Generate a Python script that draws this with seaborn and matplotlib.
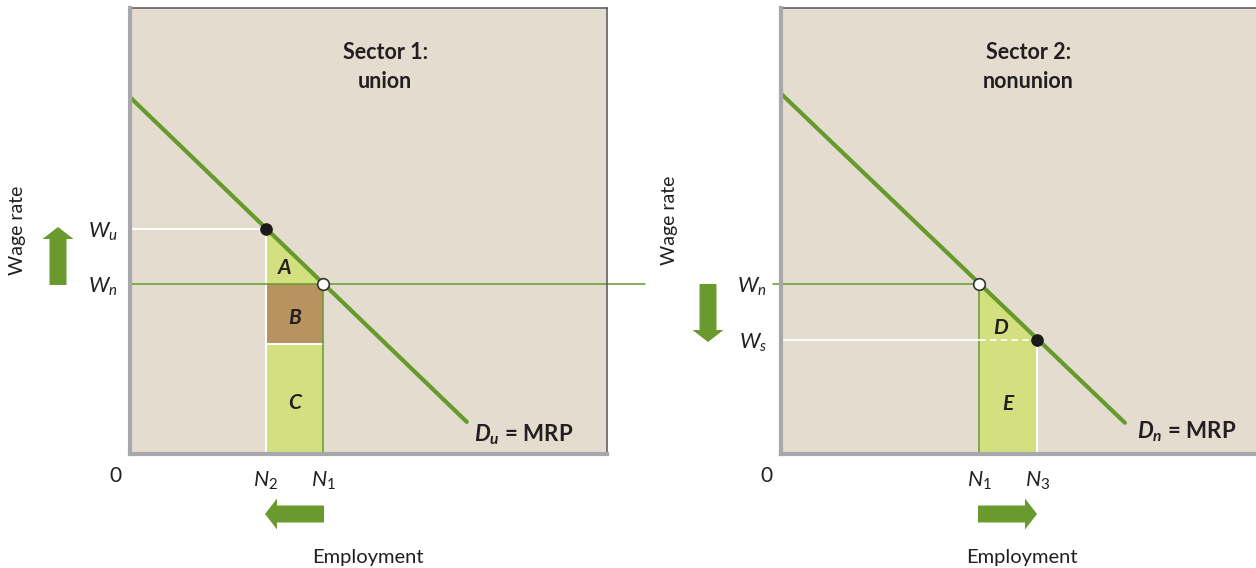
import matplotlib
matplotlib.use("Agg")
import matplotlib.pyplot as plt
import seaborn as sns
from matplotlib.patches import FancyArrow
from matplotlib.transforms import IdentityTransform

# ---------------- data ----------------
sector_titles = ["Sector 1:\nunion", "Sector 2:\nnonunion"]
demand_u_x = [0.0, 70.6]
demand_u_y = [80.0, 7.2]
demand_n_x = [0.0, 72.1]
demand_n_y = [80.8, 7.0]
wage_u = 50.4        # W_u
wage_n = 38.1        # W_n
wage_split = 24.7    # B / C boundary
wage_s = 25.6        # W_s
emp_n2 = 28.5
emp_n1_u = 40.5
emp_n1_n = 41.5
emp_n3 = 53.7
area_letters_u = ["A", "B", "C"]
area_letters_n = ["D", "E"]
ytick_labels_u = [r"$W_n$", r"$W_u$"]
ytick_labels_n = [r"$W_s$", r"$W_n$"]
xtick_labels_u = [r"$N_2$", r"$N_1$"]
xtick_labels_n = [r"$N_1$", r"$N_3$"]

# ---------------- style ----------------
sns.set_theme(style="white")
plt.rcParams["font.family"] = ["Lato", "DejaVu Sans"]
plt.rcParams["mathtext.fontset"] = "custom"
plt.rcParams["mathtext.rm"] = "Lato"
plt.rcParams["mathtext.it"] = "Lato:italic"
plt.rcParams["mathtext.bf"] = "Lato:bold"
plt.rcParams["mathtext.bfit"] = "Lato:italic:bold"

BG = "#E5DCD0"
LIGHT = "#D3E07F"
BROWN = "#B8925F"
GREEN = "#669A2D"
ARROW = "#6A9A2E"
SPINE = "#A7A8AC"
DARK = "#231F20"

W, H = 1256, 568
fig = plt.figure(figsize=(W / 100, H / 100), dpi=100)
fig.patch.set_facecolor("white")


def axrect(x0):
    return [x0 / W, (H - 454) / H, 477 / W, 446 / H]


ax1 = fig.add_axes(axrect(130))
ax2 = fig.add_axes(axrect(781))

for ax in (ax1, ax2):
    ax.set_xlim(0, 100)
    ax.set_ylim(0, 100)
    ax.set_facecolor(BG)
    for s in ("left", "bottom"):
        ax.spines[s].set_color(SPINE)
        ax.spines[s].set_linewidth(3)
        ax.spines[s].set_zorder(6)
    for s in ("top", "right"):
        ax.spines[s].set_color("#555555")
        ax.spines[s].set_linewidth(1.1)
    ax.tick_params(length=0, labelsize=15.5, colors=DARK)

LETTER_KW = dict(fontsize=15, fontweight="bold", style="italic", ha="center",
                 va="center", color=DARK, zorder=6)

# ---------------- Sector 1 ----------------
slope_u = (demand_u_y[1] - demand_u_y[0]) / (demand_u_x[1] - demand_u_x[0])
wu_line = demand_u_y[0] + slope_u * emp_n2
ax1.fill([emp_n2, emp_n2, emp_n1_u], [wage_n, wu_line, wage_n], color=LIGHT, lw=0, zorder=1)
ax1.fill_between([emp_n2, emp_n1_u], wage_split, wage_n, color=BROWN, lw=0, zorder=1)
ax1.fill_between([emp_n2, emp_n1_u], 0, wage_split, color=LIGHT, lw=0, zorder=1)
ax1.plot([0, emp_n2], [wage_u, wage_u], color="white", lw=1.4, zorder=2)
ax1.plot([emp_n2, emp_n2], [0, wage_u], color="white", lw=1.4, zorder=2)
ax1.plot([emp_n2, emp_n1_u], [wage_split, wage_split], color="white", lw=1.4, zorder=2)
ax1.plot([0, 108], [wage_n, wage_n], color=GREEN, lw=1.1, zorder=2, clip_on=False)
ax1.plot([emp_n1_u, emp_n1_u], [0, wage_n], color=GREEN, lw=1.1, zorder=2)
sns.lineplot(x=demand_u_x, y=demand_u_y, ax=ax1, color=GREEN, lw=3, zorder=4)
sns.scatterplot(x=[emp_n2], y=[wage_u], ax=ax1, color="#1a1a1a", s=70, edgecolor="#1a1a1a", zorder=5)
sns.scatterplot(x=[emp_n1_u], y=[wage_n], ax=ax1, color="white", s=70, edgecolor="#333333",
                linewidth=1.2, zorder=5)

ax1.text((2 * emp_n2 + emp_n1_u) / 3, (2 * wage_n + wage_u) / 3 - 0.5, area_letters_u[0], **LETTER_KW)
ax1.text((emp_n2 + emp_n1_u) / 2, (wage_split + wage_n) / 2 - 0.8, area_letters_u[1], **LETTER_KW)
ax1.text((emp_n2 + emp_n1_u) / 2, wage_split / 2 - 1.0, area_letters_u[2], **LETTER_KW)

ax1.set_yticks([wage_n, wage_u], labels=ytick_labels_u)
ax1.set_xticks([emp_n2, emp_n1_u], labels=xtick_labels_u)
ax1.tick_params(axis="y", pad=9)
ax1.tick_params(axis="x", pad=11)
ax1.text(72.1, 4.3, r"$\mathbfit{D_u}$ = MRP", fontsize=16, fontweight="bold",
         ha="left", va="center", color=DARK)
ax1.text(0.535, 0.868, sector_titles[0], transform=ax1.transAxes, fontsize=15.5,
         fontweight="bold", ha="center", va="center", color=DARK, linespacing=1.45)

# ---------------- Sector 2 ----------------
slope_n = (demand_n_y[1] - demand_n_y[0]) / (demand_n_x[1] - demand_n_x[0])
wn_line = demand_n_y[0] + slope_n * emp_n1_n
ax2.fill([emp_n1_n, emp_n1_n, emp_n3], [wn_line, wage_s, wage_s], color=LIGHT, lw=0, zorder=1)
ax2.fill_between([emp_n1_n, emp_n3], 0, wage_s, color=LIGHT, lw=0, zorder=1)
ax2.plot([-1.7, emp_n1_n], [wage_n, wage_n], color=GREEN, lw=1.1, zorder=2, clip_on=False)
ax2.plot([emp_n1_n, emp_n1_n], [0, wage_n], color=GREEN, lw=1.1, zorder=2)
ax2.plot([0, emp_n1_n], [wage_s, wage_s], color="white", lw=1.2, zorder=2)
ax2.plot([emp_n1_n, emp_n3], [wage_s, wage_s], color="white", lw=1.2, ls=(0, (4, 2.5)), zorder=2)
ax2.plot([emp_n3, emp_n3], [0, wage_s], color="white", lw=1.4, zorder=2)
sns.lineplot(x=demand_n_x, y=demand_n_y, ax=ax2, color=GREEN, lw=3, zorder=4)
sns.scatterplot(x=[emp_n3], y=[wage_s], ax=ax2, color="#1a1a1a", s=70, edgecolor="#1a1a1a", zorder=5)
sns.scatterplot(x=[emp_n1_n], y=[wage_n], ax=ax2, color="white", s=70, edgecolor="#333333",
                linewidth=1.2, zorder=5)

ax2.text((2 * emp_n1_n + emp_n3) / 3 + 0.5, (wage_n + 2 * wage_s) / 3 - 1.5, area_letters_n[0], **LETTER_KW)
ax2.text((emp_n1_n + emp_n3) / 2, wage_s / 2 - 1.5, area_letters_n[1], **LETTER_KW)

ax2.set_yticks([wage_s, wage_n], labels=ytick_labels_n)
ax2.set_xticks([emp_n1_n, emp_n3], labels=xtick_labels_n)
ax2.tick_params(axis="y", pad=10)
ax2.tick_params(axis="x", pad=11)
ax2.text(74.6, 4.9, r"$\mathbfit{D_n}$ = MRP", fontsize=16, fontweight="bold",
         ha="left", va="center", color=DARK)
ax2.text(0.518, 0.868, sector_titles[1], transform=ax2.transAxes, fontsize=15.5,
         fontweight="bold", ha="center", va="center", color=DARK, linespacing=1.45)

# ---------------- axis titles and zeros ----------------
for ax, yl_x, yl_y in ((ax1, -(130 - 18) / 477, 0.502), (ax2, -(781 - 670) / 477, 0.525)):
    ax.set_ylabel("Wage rate", fontsize=14, color=DARK, va="center")
    ax.yaxis.set_label_coords(yl_x, yl_y)
    ax.set_xlabel("Employment", fontsize=14.5, color=DARK, va="center")
    ax.text(-15 / 477, -22 / 446, "0", transform=ax.transAxes, fontsize=15,
            ha="center", va="center", color=DARK)
ax1.xaxis.set_label_coords((368 - 130) / 477, -(557 - 454) / 446)
ax2.xaxis.set_label_coords((1022 - 781) / 477, -(557 - 454) / 446)


# ---------------- direction arrows (pixel coordinates) ----------------
def px_arrow(x0, y0, x1, y1):
    a = FancyArrow(x0, H - y0, x1 - x0, -(y1 - y0), width=17, head_width=31, head_length=12,
                   length_includes_head=True, transform=IdentityTransform(), color=ARROW, lw=0)
    fig.add_artist(a)


px_arrow(58, 285, 58, 227)     # wage up (sector 1)
px_arrow(708, 284, 708, 342)   # wage down (sector 2)
px_arrow(324, 514, 265, 514)   # employment down (sector 1)
px_arrow(978, 514, 1037, 514)  # employment up (sector 2)

fig.savefig("out.png", dpi=100, facecolor="white")
